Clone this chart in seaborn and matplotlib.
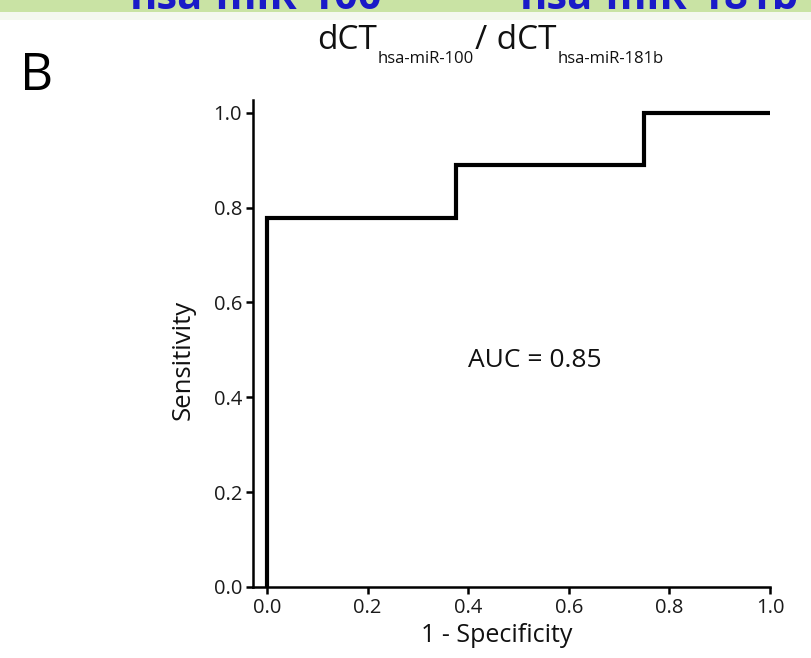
import matplotlib
matplotlib.use('Agg')
import matplotlib.pyplot as plt
from matplotlib.patches import Rectangle
import seaborn as sns
import pandas as pd

# ---- data ----
fpr = [0.0, 0.0, 0.375, 0.375, 0.75, 0.75, 1.0]
tpr = [0.0, 0.778, 0.778, 0.889, 0.889, 1.0, 1.0]
ticks = [0.0, 0.2, 0.4, 0.6, 0.8, 1.0]
tick_labels = ['0.0', '0.2', '0.4', '0.6', '0.8', '1.0']
auc_text = 'AUC = 0.85'
x_label = '1 - Specificity'
y_label = 'Sensitivity'
panel_letter = 'B'
title_parts = [('dCT', 'big'), ('hsa-miR-100', 'sub'), ('/', 'big'),
               (' dCT', 'big'), ('hsa-miR-181b', 'sub')]
banner_texts = ['hsa-miR-100', 'hsa-miR-181b']

sns.set_theme(style='ticks')
plt.rcParams['font.family'] = ['Open Sans', 'DejaVu Sans']

W, H = 812, 658
fig = plt.figure(figsize=(W / 100, H / 100), dpi=100)
fig.patch.set_facecolor('white')

# top banner remnant (cut off at the top edge, as in the reference)
fig.patches.append(Rectangle((0, 1 - 12 / H), 1, 12 / H, transform=fig.transFigure,
                             facecolor='#c9e3a4', edgecolor='none', zorder=0))
fig.patches.append(Rectangle((0, 1 - 20 / H), 1, 8 / H, transform=fig.transFigure,
                             facecolor='#f4f8ef', edgecolor='none', zorder=0))
fig.text(130 / W, 1 - 9 / H, banner_texts[0], fontsize=30, fontweight='bold',
         color='#1a1ac8', va='baseline', ha='left')
fig.text(520 / W, 1 - 9 / H, banner_texts[1], fontsize=30, fontweight='bold',
         color='#1a1ac8', va='baseline', ha='left')

ax = fig.add_axes([253 / W, 1 - 587 / H, (770 - 253) / W, (587 - 100) / H])
df = pd.DataFrame({'fpr': fpr, 'tpr': tpr})
sns.lineplot(data=df, x='fpr', y='tpr', sort=False, estimator=None, color='black',
             lw=3.0, ax=ax, clip_on=False, solid_joinstyle='miter', solid_capstyle='butt')
ax.set_xlim(-0.028, 1.0)
ax.set_ylim(0, 1.027)
sns.despine(ax=ax)
for s in ['left', 'bottom']:
    ax.spines[s].set_linewidth(1.8)
    ax.spines[s].set_color('black')
ax.set_xticks(ticks)
ax.set_xticklabels(tick_labels)
ax.set_yticks(ticks)
ax.set_yticklabels(tick_labels)
ax.tick_params(axis='both', direction='out', length=5, width=1.8, colors='black',
               labelsize=14.5, labelcolor='#1a1a1a', pad=3)

ax.set_xlabel(x_label, fontsize=18, color='#111111')
ax.xaxis.label.set_va('center')
ax.xaxis.set_label_coords((497 - 253) / 517, (587 - 635) / 487)
ax.set_ylabel(y_label, fontsize=18.5, color='#111111')
ax.yaxis.label.set_va('center')
ax.yaxis.set_label_coords((183 - 253) / 517, (587 - 360) / 487)

ax.text(0.40, 0.464, auc_text, fontsize=19, color='#111111', va='baseline', ha='left')

# panel letter
fig.text(20 / W, 1 - 90 / H, panel_letter, fontsize=37, color='black', va='baseline')

# title, chained pieces
renderer = fig.canvas.get_renderer()
x = 317
for txt, kind in title_parts:
    if kind == 'big':
        t = fig.text(x / W, 1 - 49 / H, txt, fontsize=24, color='#111111', va='baseline')
    else:
        t = fig.text(x / W, 1 - 63 / H, txt, fontsize=12, color='#111111', va='baseline')
    bb = t.get_window_extent(renderer=renderer)
    x = x + bb.width + 1

fig.savefig('out.png', dpi=100, facecolor='white')
